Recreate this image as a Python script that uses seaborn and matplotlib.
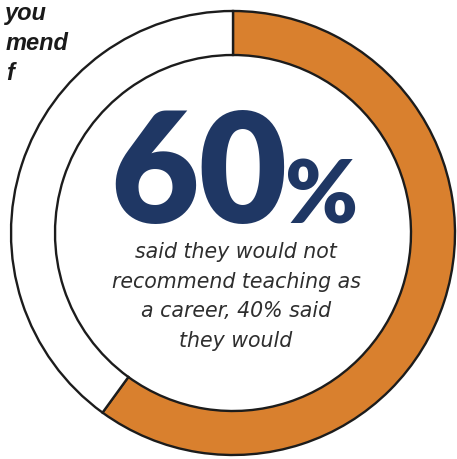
import matplotlib
matplotlib.use("Agg")
import matplotlib.pyplot as plt
import seaborn as sns

sns.set_theme(style="white")

# Survey result: would respondents recommend teaching as a career?
answers = ["Would not recommend", "Would recommend"]
shares = [60, 40]
ring_colors = ["#D9802E", "#FFFFFF"]

headline_value = "60"
headline_unit = "%"
caption_lines = [
    "said they would not",
    "recommend teaching as",
    "a career, 40% said",
    "they would",
]
question_fragments = ["you", "mend", "f"]

W, H = 457, 459
fig = plt.figure(figsize=(W / 100, H / 100), dpi=100)
ax = fig.add_axes([0, 0, 1, 1])


def y(py):
    """Convert a top-down pixel row into the axes' bottom-up coordinate."""
    return H - py


cx, cy, r_out, ring = 233, 233, 222, 44

ax.pie(
    shares,
    colors=ring_colors,
    startangle=90,
    counterclock=False,
    center=(cx, y(cy)),
    radius=r_out,
    wedgeprops=dict(width=ring, edgecolor="#1c1c1c", linewidth=1.7),
)
ax.set_xlim(0, W)
ax.set_ylim(0, H)
ax.set_aspect("equal")
ax.axis("off")

navy = "#1F3764"
ax.text(199, y(223), headline_value, ha="center", va="baseline",
        fontsize=110, fontweight="heavy", family="Lato", color=navy)
ax.text(322, y(223), headline_unit, ha="center", va="baseline",
        fontsize=63, fontweight="heavy", family="Lato", color=navy)

caption_baselines = [258, 288, 317, 347]
for line, yb in zip(caption_lines, caption_baselines):
    ax.text(236, y(yb), line, ha="center", va="baseline",
            fontsize=14.8, style="italic", family="DejaVu Sans",
            color="#2e2e2e")

right_edges = [47, 68, 14]
baselines = [20, 50, 80]
for frag, xr, yb in zip(question_fragments, right_edges, baselines):
    ax.text(xr, y(yb), frag, ha="right", va="baseline", fontsize=17,
            fontweight="bold", style="italic", family="Liberation Sans",
            color="#1a1a1a")

fig.savefig("out.png", dpi=100)
